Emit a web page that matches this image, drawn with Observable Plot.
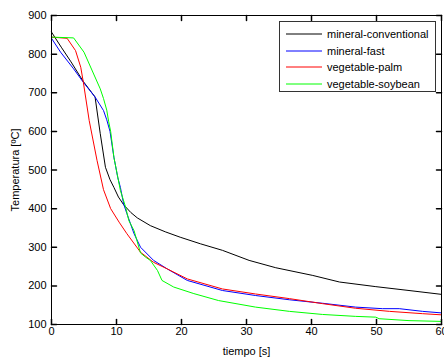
<!DOCTYPE html>
<html>
<head>
<meta charset="utf-8">
<script src="https://cdn.jsdelivr.net/npm/d3@7"></script>
<script src="https://cdn.jsdelivr.net/npm/@observablehq/plot@0.6"></script>
<style>
  html, body { margin: 0; padding: 0; background: #fff; }
  #wrap { position: relative; width: 444px; height: 358px; font-family: "Liberation Sans", Arial, sans-serif; }
  #legend { position: absolute; left: 279px; top: 21px; width: 157px; height: 71px; border: 1px solid #333; background: #fff; box-sizing: border-box; font-size: 11px; color: #000; }
  .row { position: absolute; left: 0; height: 14px; line-height: 14px; width: 155px; }
  .sw { position: absolute; left: 6px; top: 6px; }
  .lb { position: absolute; left: 47px; top: 0; white-space: nowrap; }
</style>
</head>
<body>
<div id="wrap"></div>
<script>
const seriesNames = ["mineral-conventional", "mineral-fast", "vegetable-palm", "vegetable-soybean"];
const seriesColors = ["#000000", "#0000ff", "#ff0000", "#00ff00"];

const convT = [0, 1.5, 3, 4.9, 6.7, 7.5, 8.3, 9.0, 9.6, 10.3, 11.1, 12.2, 13.2, 15.2, 17.5, 19.8, 22.9, 26.3, 30.4, 34.5, 40.2, 44.3, 49.9, 55.0, 60];
const convV = [857, 818, 780, 729, 689, 594, 507, 475, 455, 430, 410, 390, 376, 356, 340, 326, 309, 292, 266, 247, 227, 210, 198, 188, 178];

const fastT = [0, 1.4, 3.4, 4.9, 6.7, 8.0, 8.5, 9.0, 9.6, 10.2, 10.6, 11.1, 11.6, 12.7, 13.7, 15.7, 17.8, 20.9, 26.3, 31.4, 36.6, 41.7, 46.8, 50.9, 53.5, 57.1, 60];
const fastV = [841, 805, 762, 727, 689, 654, 630, 600, 533, 480, 455, 412, 387, 335, 300, 266, 244, 214, 188, 175, 164, 155, 145, 141, 141, 134, 130];

const palmT = [0, 2.4, 3.7, 4.5, 4.9, 5.8, 7.0, 8.0, 9.1, 10.4, 11.6, 13.7, 15.7, 17.8, 20.9, 26.3, 31.4, 36.6, 41.7, 46.8, 52.0, 57.1, 60];
const palmV = [844, 841, 809, 766, 727, 628, 525, 449, 400, 365, 335, 287, 261, 244, 218, 192, 179, 167, 154, 142, 134, 128, 125];

const soyT = [0, 3.4, 5.0, 7.5, 8.0, 8.5, 8.8, 9.1, 9.6, 10.1, 10.6, 11.4, 11.9, 12.7, 13.7, 14.5, 15.2, 16.3, 17.0, 18.8, 21.9, 25.7, 31.4, 36.6, 41.7, 46.8, 49.9, 50.4, 55, 60];
const soyV = [844, 842, 805, 710, 685, 655, 625, 600, 533, 490, 447, 404, 369, 343, 285, 274, 266, 240, 214, 197, 180, 162, 145, 134, 126, 121, 119, 115, 110, 108];

const xTicks = [0, 10, 20, 30, 40, 50, 60];
const yTicks = [100, 200, 300, 400, 500, 600, 700, 800, 900];
const xLabel = "tiempo [s]";
const yLabel = "Temperatura [ºC]";

const seriesT = [convT, fastT, palmT, soyT];
const seriesV = [convV, fastV, palmV, soyV];
const rows = [];
seriesNames.forEach((name, i) => {
  seriesT[i].forEach((t, j) => rows.push({series: name, t, v: seriesV[i][j]}));
});

const tickShape = { draw(ctx, l) { ctx.moveTo(0, 0); ctx.lineTo(0, -l); } };
const xDom = [xTicks[0], xTicks[xTicks.length - 1]];
const yDom = [yTicks[0], yTicks[yTicks.length - 1]];

const chart = Plot.plot({
  width: 444,
  height: 358,
  marginTop: 15,
  marginRight: 3,
  marginBottom: 34,
  marginLeft: 51,
  style: { fontFamily: "'Liberation Sans', Arial, sans-serif", fontSize: "11px", color: "#000", background: "#fff" },
  x: { domain: xDom },
  y: { domain: yDom },
  color: { domain: seriesNames, range: seriesColors },
  marks: [
    Plot.line(rows, { x: "t", y: "v", z: "series", stroke: "series", strokeWidth: 1 }),
    Plot.frame({ stroke: "#000", strokeWidth: 1 }),
    Plot.vector(xTicks, { x: d => d, y: yDom[0], length: 5, rotate: 0, anchor: "start", shape: tickShape, stroke: "#000" }),
    Plot.vector(xTicks, { x: d => d, y: yDom[1], length: 5, rotate: 180, anchor: "start", shape: tickShape, stroke: "#000" }),
    Plot.vector(yTicks, { y: d => d, x: xDom[0], length: 5, rotate: 90, anchor: "start", shape: tickShape, stroke: "#000" }),
    Plot.vector(yTicks, { y: d => d, x: xDom[1], length: 5, rotate: -90, anchor: "start", shape: tickShape, stroke: "#000" }),
    Plot.axisX({ ticks: xTicks, tickSize: 0, tickPadding: 3, label: null, tickFormat: d => String(d) }),
    Plot.axisY({ ticks: yTicks, tickSize: 0, tickPadding: 5, label: null, tickFormat: d => String(d) }),
    Plot.text([xLabel], { text: d => d, frameAnchor: "bottom", dy: 27, lineAnchor: "middle", fill: "#000" }),
    Plot.text([yLabel], { text: d => d, frameAnchor: "left", dx: -36, rotate: -90, textAnchor: "middle", lineAnchor: "middle", fill: "#000" })
  ]
});

const wrap = document.getElementById("wrap");
wrap.appendChild(chart);

const legend = document.createElement("div");
legend.id = "legend";
seriesNames.forEach((name, i) => {
  const row = document.createElement("div");
  row.className = "row";
  row.style.top = (5 + i * 16.7) + "px";
  const sw = document.createElementNS("http://www.w3.org/2000/svg", "svg");
  sw.setAttribute("class", "sw");
  sw.setAttribute("width", "36");
  sw.setAttribute("height", "2");
  const ln = document.createElementNS("http://www.w3.org/2000/svg", "line");
  ln.setAttribute("x1", "0"); ln.setAttribute("x2", "36");
  ln.setAttribute("y1", "1"); ln.setAttribute("y2", "1");
  ln.setAttribute("stroke", seriesColors[i]);
  ln.setAttribute("stroke-width", "1");
  sw.appendChild(ln);
  const lb = document.createElement("div");
  lb.className = "lb";
  lb.textContent = name;
  row.appendChild(sw);
  row.appendChild(lb);
  legend.appendChild(row);
});
wrap.appendChild(legend);
</script>
</body>
</html>
